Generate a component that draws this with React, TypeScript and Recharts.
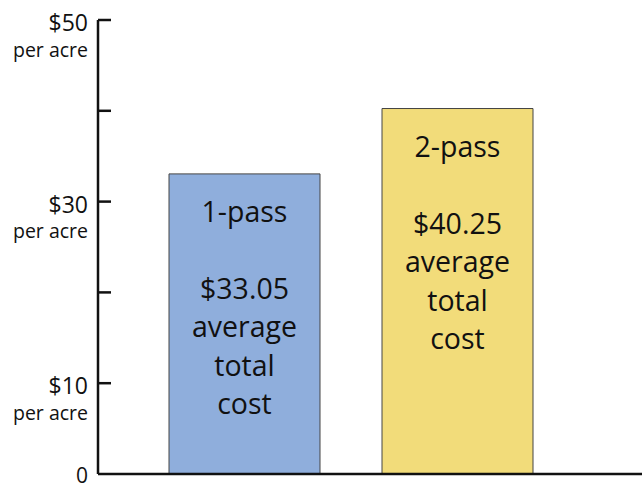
import { Bar, BarChart, Cell, LabelList, XAxis, YAxis } from 'recharts';

const categories = ['1-pass', '2-pass'];
const averageCost = [33.05, 40.25];
const barColors = ['#8FAEDC', '#F2DC7A'];
const yTicks = [0, 10, 20, 30, 40, 50];
const yTickLabels = ['0', '$10', '', '$30', '', '$50'];
const yTickSubLabels = ['', 'per acre', '', 'per acre', '', 'per acre'];

const data = categories.map((name, i) => ({ name, cost: averageCost[i] }));

const FONT = '"Open Sans", sans-serif';
const AXIS = '#111';

function YTick(props: any) {
  const { x, y, payload } = props;
  const i = yTicks.indexOf(payload.value);
  const isZero = payload.value === 0;
  return (
    <g>
      {!isZero && <line x1={x} x2={x + 13} y1={y} y2={y} stroke={AXIS} strokeWidth={2.5} />}
      <text
        x={x - 10}
        y={isZero ? y + 1 : y + 2}
        textAnchor="end"
        dominantBaseline="central"
        fontSize={isZero ? 21 : 23}
        fontFamily={FONT}
        fill="#111"
      >
        {yTickLabels[i]}
      </text>
      {yTickSubLabels[i] && (
        <text x={x - 10} y={y + 29} textAnchor="end" dominantBaseline="central" fontSize={19.5} fontFamily={FONT} fill="#111">
          {yTickSubLabels[i]}
        </text>
      )}
    </g>
  );
}

function BarText(props: any) {
  const { x, y, width, index } = props;
  const cx = x + width / 2;
  const lines = [`$${averageCost[index].toFixed(2)}`, 'average', 'total', 'cost'];
  return (
    <g fontFamily={FONT} fontSize={28.5} fill="#111" textAnchor="middle">
      <text x={cx} y={y + 37} dominantBaseline="central">{categories[index]}</text>
      {lines.map((t, k) => (
        <text key={k} x={cx} y={y + 114 + k * 38.5} dominantBaseline="central">{t}</text>
      ))}
    </g>
  );
}

export default function App() {
  return (
    <div style={{ position: 'absolute', left: 0, top: 0, background: '#fff' }}>
      <BarChart width={642} height={485} data={data} margin={{ top: 20, right: 0, bottom: 0, left: 0 }}>
        <XAxis
          dataKey="name"
          tick={false}
          tickLine={false}
          height={11}
          padding={{ left: 40, right: 78 }}
          axisLine={{ stroke: AXIS, strokeWidth: 2.5 }}
        />
        <YAxis
          width={98}
          domain={[0, 50]}
          ticks={yTicks}
          interval={0}
          tickSize={0}
          tickMargin={0}
          tickLine={false}
          tick={<YTick />}
          axisLine={{ stroke: AXIS, strokeWidth: 2.5 }}
        />
        <Bar dataKey="cost" barSize={151} stroke="#444" strokeWidth={1} isAnimationActive={false}>
          {data.map((d, i) => (
            <Cell key={d.name} fill={barColors[i]} />
          ))}
          <LabelList dataKey="cost" content={<BarText />} />
        </Bar>
      </BarChart>
    </div>
  );
}
